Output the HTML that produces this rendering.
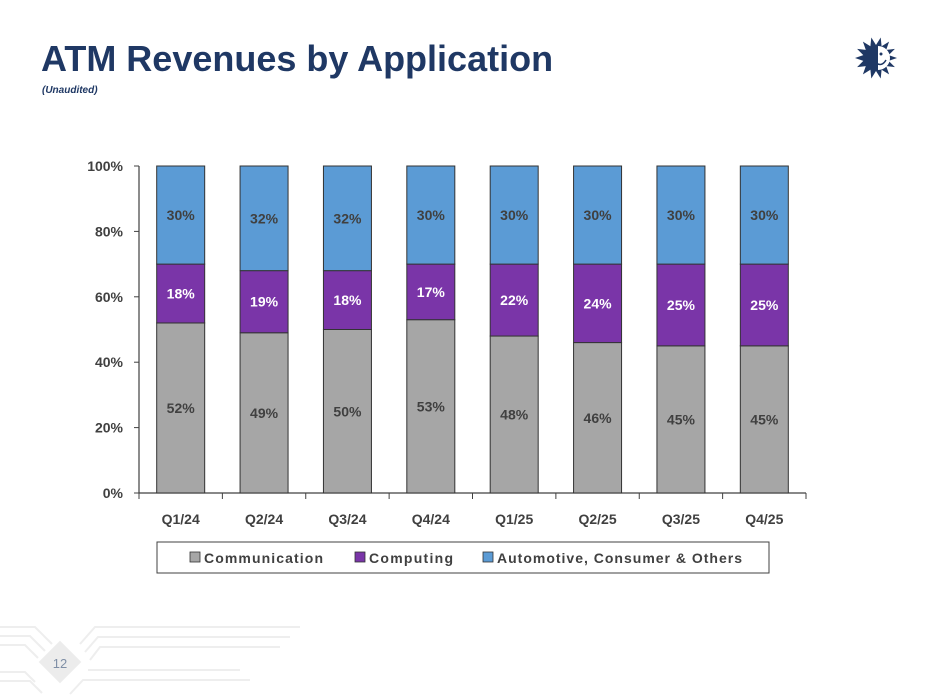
<!DOCTYPE html>
<html><head><meta charset="utf-8"><style>
body{margin:0;width:932px;height:700px;background:#fff;overflow:hidden;font-family:"Liberation Sans",sans-serif;position:relative}
#title{position:absolute;left:41px;top:38px;font-size:36px;font-weight:bold;color:#1F3864;letter-spacing:0px}
#sub{position:absolute;left:42px;top:85px;font-size:10px;font-style:italic;font-weight:bold;color:#1F3864}
svg{position:absolute;left:0;top:0}
</style></head><body>
<div id="title">ATM Revenues by Application</div>
<div id="sub">(Unaudited)</div>
<svg width="932" height="700" id="svg">
<g stroke="#eeeeee" fill="none" stroke-width="2">
<path d="M0 627 H35 L52 644"/><path d="M0 636 H30 L45 651"/><path d="M0 645 H25 L38 658"/>
<path d="M0 672 H25 L35 682"/><path d="M0 681 H30 L42 693"/>
<path d="M80 644 L95 627 H300"/><path d="M85 652 L98 637 H290"/><path d="M90 660 L100 647 H280"/>
<path d="M70 694 L83 680 H250"/><path d="M88 670 H240"/>
</g>
<rect x="45" y="647" width="30" height="30" fill="#ececec" transform="rotate(45 60 662)"/>
<text x="60" y="668" font-size="13" fill="#7f8fa6" text-anchor="middle" font-family="Liberation Sans">12</text>
<g transform="translate(876,58)">
<polygon id="sun" fill="#1F3864"/>
<path d="M2 -12 A12 12 0 0 1 2 12 Z" fill="#fff"/>
<circle cx="5" cy="-4" r="1.5" fill="#1F3864"/><path d="M0 5 Q6 9 10 2" stroke="#1F3864" stroke-width="1.5" fill="none"/>
</g>
</svg>
<script>
const categories=["Q1/24","Q2/24","Q3/24","Q4/24","Q1/25","Q2/25","Q3/25","Q4/25"];
const communication=[52,49,50,53,48,46,45,45];
const computing=[18,19,18,17,22,24,25,25];
const automotive=[30,32,32,30,30,30,30,30];
const yTicks=[0,20,40,60,80,100];
const seriesNames=["Communication","Computing","Automotive, Consumer & Others"];
const NS="http://www.w3.org/2000/svg";
const svg=document.getElementById('svg');
(function(){let p=[];for(let i=0;i<28;i++){const r=i%2?13:21;const a=i*Math.PI/14;p.push((r*Math.cos(a)).toFixed(1)+","+(r*Math.sin(a)).toFixed(1));}document.getElementById('sun').setAttribute('points',p.join(' '));})();
const X0=139,X1=806,Y0=493,Y1=166;
const band=(X1-X0)/categories.length;
const xc=i=>X0+band*(i+0.5);
const y=v=>Y0-(Y0-Y1)*v/100;
function el(t,a,txt){const e=document.createElementNS(NS,t);for(const k in a)e.setAttribute(k,a[k]);if(txt!=null)e.textContent=txt;svg.appendChild(e);return e;}
const ax=el('path',{d:`M${X0} ${Y1} V${Y0} H${X1}`,stroke:'#404040','stroke-width':1.2,fill:'none'});


yTicks.forEach(t=>{
 const tk=el('line',{x1:X0-5,x2:X0,y1:y(t),y2:y(t),stroke:'#404040'});
 
 
 const l=el('text',{x:X0-16,y:y(t)+5,'text-anchor':'end','font-size':14,'font-weight':'bold',fill:'#404040'},t+'%');
 
 
});
for(let i=0;i<=categories.length;i++){
 const tk=el('line',{x1:X0+band*i,x2:X0+band*i,y1:Y0,y2:Y0+6,stroke:'#404040'});
 
 
}
const colors=['#A6A6A6','#7A35A8','#5B9BD5'];
const txtc=['#404040','#ffffff','#404040'];
const series=[communication,computing,automotive];
categories.forEach((c,i)=>{
 let base=0;
 series.forEach((s,k)=>{
  const v=s[i];
  const r=el('rect',{x:xc(i)-24,y:y(base+v),width:48,height:y(base)-y(base+v),fill:colors[k],stroke:'#333','stroke-width':1});
  
  
  const t=el('text',{x:xc(i),y:y(base+v/2)+5,'text-anchor':'middle','font-size':14,'font-weight':'bold',fill:txtc[k]},v+'%');
  
  
  base+=v;
 });
 const l=el('text',{x:xc(i),y:524,'text-anchor':'middle','font-size':14,'font-weight':'bold',fill:'#404040'},c);
 
 
});
const lg=el('rect',{x:157,y:542,width:612,height:31,fill:'#fff',stroke:'#404040'});


const lx=[190,355,483];
const lw=[119,84,245];
seriesNames.forEach((n,k)=>{
 const s=el('rect',{x:lx[k],y:552,width:10,height:10,fill:colors[k],stroke:'#333','stroke-width':0.8});
 
 
 const t=el('text',{x:lx[k]+14,y:563,'font-size':14,'font-weight':'bold',fill:'#404040',textLength:lw[k],lengthAdjust:'spacing'},n);
 
 
});
</script>
</body></html>
